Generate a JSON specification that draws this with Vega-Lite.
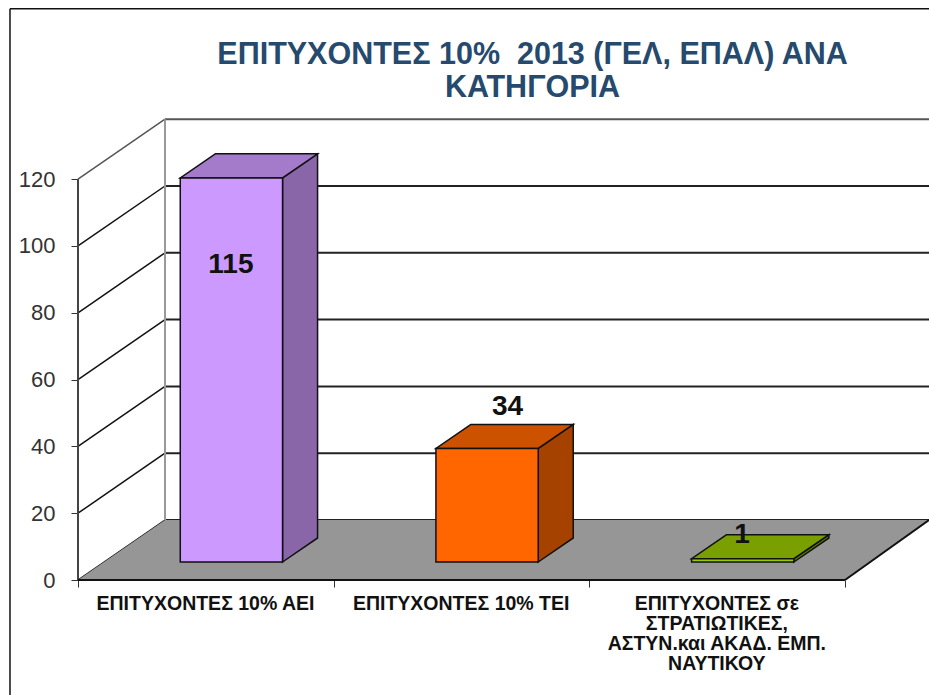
{
"$schema":"https://vega.github.io/schema/vega-lite/v6.json",
"width":851,"height":461,
"autosize":{"type":"none"},
"padding":{"left":78,"top":119,"right":0,"bottom":115},
"background":"white",
"config":{"view":{"stroke":null}},
"title":{"text":["ΕΠΙΤΥΧΟΝΤΕΣ 10%\u00a0 2013 (ΓΕΛ, ΕΠΑΛ) ΑΝΑ","ΚΑΤΗΓΟΡΙΑ"],"font":"Liberation Sans","fontSize":30.5,"fontWeight":"bold","color":"#264A6E","anchor":"middle","frame":"group","dx":29,"dy":95,"lineHeight":33,"offset":0},
"datasets":{
"bars":[
{"category":"ΕΠΙΤΥΧΟΝΤΕΣ 10% ΑΕΙ","slot":0,"value":115},
{"category":"ΕΠΙΤΥΧΟΝΤΕΣ 10% ΤΕΙ","slot":1,"value":34},
{"category":"ΕΠΙΤΥΧΟΝΤΕΣ σε ΣΤΡΑΤΙΩΤΙΚΕΣ, ΑΣΤΥΝ.και ΑΚΑΔ. ΕΜΠ. ΝΑΥΤΙΚΟΥ","slot":2,"value":1}
],
"grid":[{"v":0},{"v":20},{"v":40},{"v":60},{"v":80},{"v":100},{"v":120}]
},
"encoding":{
"x":{"field":"x","type":"quantitative","title":null,"scale":{"domain":[0,3.3285],"nice":false,"zero":false},
"axis":{"values":[0,1,2,3],"domain":false,"grid":false,"tickColor":"#333","tickSize":7,"labelPadding":7,"labelOffset":127,"labelOverlap":false,"labelBound":false,"labelFlush":false,"labelFont":"Liberation Sans","labelFontSize":19.5,"labelFontWeight":"bold","labelColor":"#111","labelLineHeight":20,"labelBaseline":"top","labelLimit":400,
"labelExpr":"datum.value==0?'ΕΠΙΤΥΧΟΝΤΕΣ 10% ΑΕΙ':datum.value==1?'ΕΠΙΤΥΧΟΝΤΕΣ 10% ΤΕΙ':datum.value==2?['ΕΠΙΤΥΧΟΝΤΕΣ σε','ΣΤΡΑΤΙΩΤΙΚΕΣ,','ΑΣΤΥΝ.και ΑΚΑΔ. ΕΜΠ.','ΝΑΥΤΙΚΟΥ']:''"}},
"y":{"field":"y","type":"quantitative","title":null,"scale":{"domain":[0,138.02],"nice":false,"zero":false},
"axis":{"values":[0,20,40,60,80,100,120],"domain":false,"grid":false,"tickColor":"#333","tickSize":7,"labelPadding":16,"labelFont":"Liberation Sans","labelFontSize":22,"labelColor":"#333"}}
},
"layer":[
{"data":{"values":[{"x":-0.266,"x2":3.3285,"y":171,"y2":171},{"x":-0.266,"x2":-0.266,"y":171,"y2":-34.4}]},
 "mark":{"type":"rule","stroke":"#111","strokeWidth":1.5},
 "encoding":{"x2":{"field":"x2"},"y2":{"field":"y2"}}},
{"data":{"name":"grid"},
 "transform":[{"calculate":"0","as":"x"},{"calculate":"0.3403","as":"x2"},{"calculate":"datum.v","as":"y"},{"calculate":"datum.v+17.96","as":"y2"}],
 "mark":{"type":"rule","strokeWidth":1.5},
 "encoding":{"x2":{"field":"x2"},"y2":{"field":"y2"},"stroke":{"condition":{"test":"datum.v==120","value":"#555"},"value":"#111"}}},
{"data":{"name":"grid"},
 "transform":[{"calculate":"0.3403","as":"x"},{"calculate":"3.3285","as":"x2"},{"calculate":"datum.v+17.96","as":"y"}],
 "mark":{"type":"rule","strokeWidth":2},
 "encoding":{"x2":{"field":"x2"},"stroke":{"condition":{"test":"datum.v==120","value":"#555"},"value":"#222"}}},
{"data":{"values":[{"x":0.3403,"y":17.96,"y2":137.96}]},
 "mark":{"type":"rule","stroke":"#999","strokeWidth":2},
 "encoding":{"y2":{"field":"y2"}}},
{"data":{"name":"grid"},
 "transform":[{"filter":"datum.v==0"},{"calculate":"[0,1]","as":"k"},{"flatten":["k"]},{"calculate":"datum.k*0.3403","as":"x"},{"calculate":"3+datum.k*0.3285","as":"x2"},{"calculate":"datum.k*17.96","as":"y"}],
 "mark":{"type":"area","orient":"horizontal","fill":"#969696","opacity":1},
 "encoding":{"x2":{"field":"x2"}}},
{"data":{"values":[{"x":0,"y":0,"y2":120}]},
 "mark":{"type":"rule","stroke":"#444","strokeWidth":2},
 "encoding":{"y2":{"field":"y2"}}},
{"data":{"values":[{"x":0,"x2":3,"y":0,"y2":0},{"x":3,"x2":3.3285,"y":0,"y2":17.96}]},
 "mark":{"type":"rule","stroke":"#111","strokeWidth":2},
 "encoding":{"x2":{"field":"x2"},"y2":{"field":"y2"}}},
{"data":{"name":"bars"},
 "transform":[{"calculate":"[0,1]","as":"k"},{"flatten":["k"]},{"calculate":"datum.slot+0.8+datum.k*0.137","as":"x"},{"calculate":"5.39+datum.k*7.19","as":"y"},{"calculate":"datum.y+datum.value","as":"y2"}],
 "mark":{"type":"area","orient":"vertical","stroke":"#111","strokeWidth":1.5,"opacity":1},
 "encoding":{"y2":{"field":"y2"},"fill":{"field":"category","type":"nominal","legend":null,"scale":{"domain":["ΕΠΙΤΥΧΟΝΤΕΣ 10% ΑΕΙ","ΕΠΙΤΥΧΟΝΤΕΣ 10% ΤΕΙ","ΕΠΙΤΥΧΟΝΤΕΣ σε ΣΤΡΑΤΙΩΤΙΚΕΣ, ΑΣΤΥΝ.και ΑΚΑΔ. ΕΜΠ. ΝΑΥΤΙΚΟΥ"],"range":["#8966A8","#A64200","#5F7C00"]}}}},
{"data":{"name":"bars"},
 "transform":[{"calculate":"[0,1]","as":"k"},{"flatten":["k"]},{"calculate":"datum.slot+0.4+datum.k*0.137","as":"x"},{"calculate":"datum.slot+0.8+datum.k*0.137","as":"x2"},{"calculate":"5.39+datum.value+datum.k*7.19","as":"y"}],
 "mark":{"type":"area","orient":"horizontal","stroke":"#111","strokeWidth":1.5,"opacity":1},
 "encoding":{"x2":{"field":"x2"},"fill":{"field":"category","type":"nominal","legend":null,"scale":{"domain":["ΕΠΙΤΥΧΟΝΤΕΣ 10% ΑΕΙ","ΕΠΙΤΥΧΟΝΤΕΣ 10% ΤΕΙ","ΕΠΙΤΥΧΟΝΤΕΣ σε ΣΤΡΑΤΙΩΤΙΚΕΣ, ΑΣΤΥΝ.και ΑΚΑΔ. ΕΜΠ. ΝΑΥΤΙΚΟΥ"],"range":["#A47ACB","#CC5200","#7A9F00"]}}}},
{"data":{"name":"bars"},
 "transform":[{"calculate":"datum.slot+0.4","as":"x"},{"calculate":"datum.slot+0.8","as":"x2"},{"calculate":"5.39","as":"y"},{"calculate":"5.39+datum.value","as":"y2"}],
 "mark":{"type":"rect","stroke":"#111","strokeWidth":1.5,"opacity":1},
 "encoding":{"x2":{"field":"x2"},"y2":{"field":"y2"},"fill":{"field":"category","type":"nominal","legend":null,"scale":{"domain":["ΕΠΙΤΥΧΟΝΤΕΣ 10% ΑΕΙ","ΕΠΙΤΥΧΟΝΤΕΣ 10% ΤΕΙ","ΕΠΙΤΥΧΟΝΤΕΣ σε ΣΤΡΑΤΙΩΤΙΚΕΣ, ΑΣΤΥΝ.και ΑΚΑΔ. ΕΜΠ. ΝΑΥΤΙΚΟΥ"],"range":["#CC99FF","#FF6600","#99CC00"]}}}},
{"data":{"name":"bars"},
 "transform":[{"calculate":"{'115':0.598,'34':1.68,'1':2.597}[datum.value]","as":"x"},{"calculate":"{'115':94.3,'34':51.8,'1':13.5}[datum.value]","as":"y"}],
 "mark":{"type":"text","font":"Liberation Sans","fontSize":28,"fontWeight":"bold","color":"#111","align":"center","baseline":"middle"},
 "encoding":{"text":{"field":"value","type":"quantitative"}}}
],
"resolve":{"scale":{"fill":"independent"}}
}
